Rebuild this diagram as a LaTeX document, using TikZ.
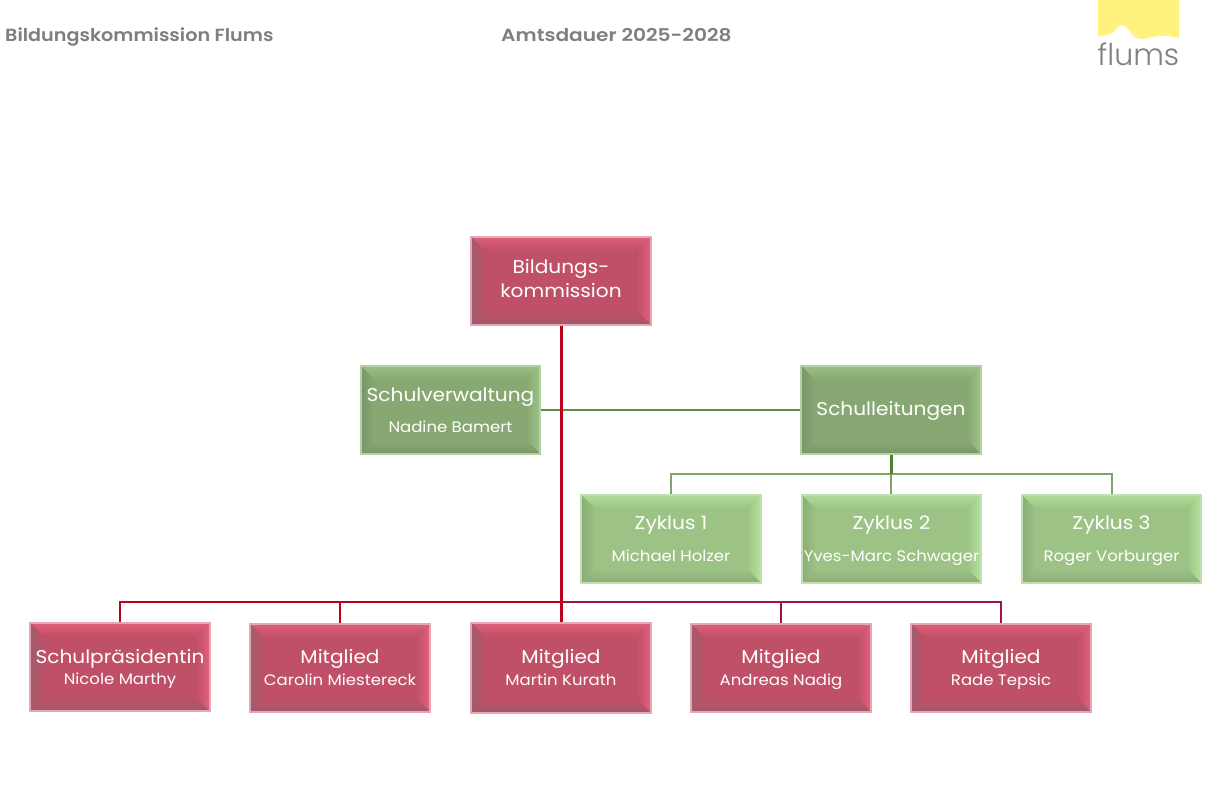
\documentclass[tikz,border=0pt]{standalone}
\usepackage{fontspec}
\setmainfont{Poppins}[FakeStretch=1.087]
\newfontfamily\headfont{Poppins SemiBold}[FakeStretch=1.09]
\newfontfamily\termfont{Poppins SemiBold}[FakeStretch=1.145]
\newfontfamily\logofont{Poppins Light}
\definecolor{rface}{HTML}{BF5067}
\definecolor{rtop}{HTML}{DE5F78}
\definecolor{rright}{HTML}{E4607D}
\definecolor{rleft}{HTML}{A05C6C}
\definecolor{rbot}{HTML}{A2596A}
\definecolor{rline}{HTML}{E3A7B5}
\definecolor{dface}{HTML}{87A873}
\definecolor{dtop}{HTML}{9ABF84}
\definecolor{dright}{HTML}{9CC486}
\definecolor{dleft}{HTML}{78966A}
\definecolor{dbot}{HTML}{799867}
\definecolor{dline}{HTML}{B4D1A4}
\definecolor{lface}{HTML}{9CC285}
\definecolor{ltop}{HTML}{AEDC96}
\definecolor{lright}{HTML}{B4E49C}
\definecolor{lleft}{HTML}{8AAC76}
\definecolor{lbot}{HTML}{8AAC77}
\definecolor{lline}{HTML}{C0E0B0}
\definecolor{redbar}{HTML}{BC001C}
\definecolor{redend}{HTML}{A31048}
\definecolor{grnbar}{HTML}{4F8030}
\definecolor{grnmid}{HTML}{5F8B48}
\definecolor{grnthin}{HTML}{7FA66A}
\definecolor{titlegray}{HTML}{7F7F7F}
\definecolor{logoyellow}{HTML}{FFF27F}
\newcommand{\bevelbox}[5]{%
  \fill[#1] (path picture bounding box.north west) rectangle (path picture bounding box.south east);
  \shade[top color=#2, bottom color=#1] (path picture bounding box.north west) -- (path picture bounding box.north east)
    -- ([shift={(-14,-14)}]path picture bounding box.north east) -- ([shift={(14,-14)}]path picture bounding box.north west) -- cycle;
  \shade[right color=#3, left color=#1] (path picture bounding box.north east) -- (path picture bounding box.south east)
    -- ([shift={(-14,14)}]path picture bounding box.south east) -- ([shift={(-14,-14)}]path picture bounding box.north east) -- cycle;
  \shade[left color=#4, right color=#1] (path picture bounding box.north west) -- (path picture bounding box.south west)
    -- ([shift={(14,14)}]path picture bounding box.south west) -- ([shift={(14,-14)}]path picture bounding box.north west) -- cycle;
  \shade[bottom color=#5, top color=#1] (path picture bounding box.south west) -- (path picture bounding box.south east)
    -- ([shift={(-14,14)}]path picture bounding box.south east) -- ([shift={(14,14)}]path picture bounding box.south west) -- cycle;
}
\tikzset{
  x=1pt, y=1pt,
  box/.style={draw, line width=1.6pt, minimum width=179.5pt, minimum height=88pt, inner sep=0pt,
    text=white, align=center, font=\fontsize{18.5}{23}\selectfont},
  redbox/.style={box, draw=rline, path picture={\bevelbox{rface}{rtop}{rright}{rleft}{rbot}}},
  darkbox/.style={box, draw=dline, path picture={\bevelbox{dface}{dtop}{dright}{dleft}{dbot}}},
  lightbox/.style={box, draw=lline, path picture={\bevelbox{lface}{ltop}{lright}{lleft}{lbot}}},
  heading/.style={text=titlegray, font=\fontsize{17.6}{20}\headfont, inner sep=0pt, anchor=base west},
  redlink/.style={draw=redbar, line width=3pt},
  redlinkb/.style={draw=redend, line width=2pt},
  redlinkl/.style={draw=redbar, line width=2pt},
  grnlink/.style={draw=grnmid, line width=2.4pt},
  grnthick/.style={draw=grnbar, line width=3pt},
  grnthinl/.style={draw=grnthin, line width=2pt},
}
\newcommand{\tln}[1]{\rule[-5pt]{0pt}{19pt}#1}
\newcommand{\tlx}[1]{\rule[-5pt]{0pt}{23pt}#1}
\newcommand{\sm}[1]{{\fontsize{15.2}{15}\selectfont\rule[-5pt]{0pt}{17pt}#1}}
\begin{document}
\begin{tikzpicture}[yscale=-1]
\useasboundingbox (0,0) rectangle (1215,802);
\fill[white] (0,0) rectangle (1215,802);
% heading
\node[heading] (title) at (5,41.5) {Bildungskommission Flums};
\node[heading, font=\fontsize{17.6}{20}\termfont] (term) at (501,41.5) {Amtsdauer 2025-2028};
% logo
\fill[logoyellow] (1098,0) -- (1179,0) -- (1179,38) .. controls (1170,36) and (1160,35) .. (1152,37)
  .. controls (1146,38) and (1142,40) .. (1137,38) .. controls (1130,35) and (1128,25) .. (1122,25)
  .. controls (1116,25) and (1116,33) .. (1110,34) .. controls (1105,35) and (1101,36) .. (1098,36) -- cycle;
\node[text=titlegray, font=\fontsize{30}{30}\logofont, inner sep=0pt, anchor=base] (logo) at (1138.5,66) {flums};
% boxes
\node[redbox] (bk) at (561,281) {\tln{Bildungs-}\\[0.5pt]\tln{kommission}};
\node[darkbox] (sv) at (450.5,410) {\tlx{Schulverwaltung}\\[8pt]\sm{Nadine Bamert}};
\node[darkbox] (sl) at (891,410) {\rule[-5pt]{0pt}{20pt}Schulleitungen};
\node[lightbox] (z1) at (671,539) {\tlx{Zyklus 1}\\[9pt]\sm{Michael Holzer}};
\node[lightbox] (z2) at (891.5,539) {\tlx{Zyklus 2}\\[9pt]\sm{Yves-Marc Schwager}};
\node[lightbox] (z3) at (1111.5,539) {\tlx{Zyklus 3}\\[9pt]\sm{Roger Vorburger}};
\node[redbox] (m0) at (120,667) {\tlx{Schulpräsidentin}\\[-2pt]\sm{Nicole Marthy}};
\node[redbox] (m1) at (340,668) {\tlx{Mitglied}\\[-1.5pt]\sm{Carolin Miestereck}};
\node[redbox, minimum height=90pt] (m2) at (561,668) {\tlx{Mitglied}\\[-1.5pt]\sm{Martin Kurath}};
\node[redbox] (m3) at (781,668) {\tlx{Mitglied}\\[-1.5pt]\sm{Andreas Nadig}};
\node[redbox] (m4) at (1001,668) {\tlx{Mitglied}\\[-1.5pt]\sm{Rade Tepsic}};
% connectors
\coordinate (rj) at (bk.south |- 0,602);
\coordinate (gj) at (sl.south |- 0,474);
\draw[grnlink] (sv.east) -- (sl.west);
\draw[grnthinl] (z1.north) |- (gj) -| (z3.north);
\draw[grnthinl] (gj) -- (sl.south |- z2.north);
\draw[grnthick] (sl.south) -- (gj);
\draw[redlinkb] (m3.north) |- (rj);
\draw[redlinkb] (m4.north) |- (rj);
\draw[redlinkl] (m0.north) |- (rj);
\draw[redlinkl] (m1.north) |- (rj);
\draw[redlink] (bk.south) -- (m2.north);
\end{tikzpicture}
\end{document}
